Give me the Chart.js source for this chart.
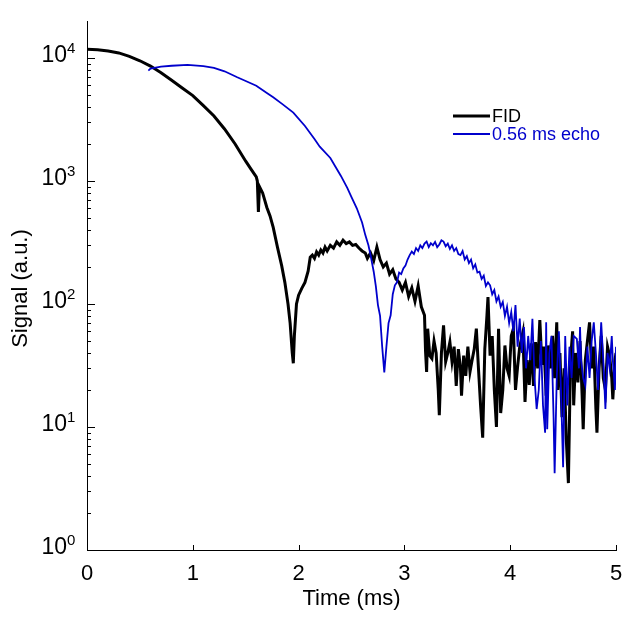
<!DOCTYPE html>
<html>
<head>
<meta charset="utf-8">
<title>FID vs echo</title>
<script src="https://cdn.jsdelivr.net/npm/chart.js@4/dist/chart.umd.min.js"></script>
<style>
    body { margin: 0; background: #fff; }
    #signalChart { display: block; }
</style>
</head>
<body>
<canvas id="signalChart" width="627" height="617"></canvas>
<script>
// Datos (tiempo en ms, señal en u.a.)
const fidTime = [
    0, 0.1, 0.2, 0.3, 0.4, 0.5, 0.6, 0.7, 0.8, 0.9,
    1.0, 1.1, 1.2, 1.3, 1.4, 1.5, 1.55, 1.6, 1.61, 1.62,
    1.63, 1.66, 1.70, 1.73, 1.76, 1.80, 1.84, 1.87, 1.90, 1.92,
    1.94, 1.95, 1.96, 1.98, 2.00, 2.03, 2.06, 2.09, 2.11, 2.13,
    2.15, 2.17, 2.19, 2.21, 2.23, 2.25, 2.27, 2.30, 2.33, 2.36,
    2.39, 2.42, 2.45, 2.48, 2.51, 2.54, 2.57, 2.60, 2.63, 2.65,
    2.68, 2.71, 2.74, 2.77, 2.80, 2.83, 2.86, 2.89, 2.92, 2.95,
    2.98, 3.01, 3.04, 3.07, 3.10, 3.13, 3.16, 3.19, 3.20, 3.21,
    3.22, 3.24, 3.26, 3.28, 3.30, 3.32, 3.33, 3.35, 3.37, 3.39,
    3.41, 3.43, 3.45, 3.47, 3.49, 3.51, 3.53, 3.54, 3.56, 3.58,
    3.60, 3.62, 3.64, 3.66, 3.68, 3.70, 3.72, 3.74, 3.76, 3.78,
    3.79, 3.81, 3.83, 3.85, 3.87, 3.89, 3.91, 3.93, 3.95, 3.97,
    3.99, 4.01, 4.03, 4.05, 4.07, 4.09, 4.12, 4.14, 4.16, 4.18,
    4.20, 4.22, 4.24, 4.26, 4.28, 4.30, 4.32, 4.34, 4.36, 4.38,
    4.40, 4.42, 4.44, 4.45, 4.47, 4.49, 4.51, 4.53, 4.55, 4.57,
    4.59, 4.60, 4.62, 4.64, 4.66, 4.68, 4.69, 4.71, 4.73, 4.75,
    4.77, 4.79, 4.81, 4.82, 4.84, 4.86, 4.88, 4.90, 4.92, 4.94,
    4.96, 4.97, 4.99, 5.00
];
const fidSignal = [
    11800, 11700, 11400, 11000, 10300, 9500, 8600, 7600, 6600, 5700,
    4950, 4100, 3380, 2650, 2000, 1450, 1250, 1080, 1000, 560,
    900, 800, 610, 520, 420, 290, 205, 150, 100, 70,
    40, 33, 55, 100, 118, 134, 150, 185, 240, 250,
    235, 265, 250, 275, 260, 290, 270, 300, 285, 320,
    300, 330, 310, 320, 300, 305, 285, 270, 260, 235,
    260, 225, 290, 230, 200, 215, 175, 190, 160, 150,
    130, 150, 115, 135, 105, 140, 95, 81, 41, 28,
    63, 38, 36, 50, 40, 20, 12.5, 40, 67, 34,
    40, 49, 34, 45, 21.6, 43, 30, 18, 38, 26,
    45, 28, 35, 43, 63, 30, 15, 8.2, 43, 80,
    114, 38, 55, 20, 10, 63, 13, 20, 46, 30,
    26, 55, 63, 20, 31, 45, 59, 16, 35, 22,
    48, 21.6, 49, 30, 74, 32, 45, 18, 46, 30,
    55, 25, 71, 20, 40, 12, 30, 8, 3.5, 35,
    60, 15, 40, 23, 50, 18, 9.6, 35, 50, 71,
    30, 45, 14, 9, 30, 55, 25, 20, 45, 38,
    25, 16.8, 35, 40
];

const echoTime = [
    0.58, 0.6, 0.7, 0.8, 0.95, 1.1, 1.2, 1.3, 1.42, 1.5,
    1.6, 1.7, 1.76, 1.85, 1.95, 2.06, 2.15, 2.2, 2.3, 2.4,
    2.46, 2.5, 2.55, 2.6, 2.63, 2.66, 2.68, 2.71, 2.73, 2.75,
    2.77, 2.79, 2.81, 2.83, 2.85, 2.87, 2.89, 2.91, 2.93, 2.95,
    2.97, 2.99, 3.01, 3.03, 3.05, 3.07, 3.09, 3.11, 3.13, 3.15,
    3.17, 3.19, 3.21, 3.23, 3.25, 3.27, 3.29, 3.31, 3.33, 3.35,
    3.37, 3.39, 3.41, 3.43, 3.45, 3.47, 3.49, 3.51, 3.53, 3.55,
    3.57, 3.59, 3.61, 3.63, 3.65, 3.67, 3.69, 3.71, 3.73, 3.75,
    3.77, 3.79, 3.81, 3.83, 3.85, 3.87, 3.89, 3.91, 3.93, 3.95,
    3.97, 3.99, 4.01, 4.03, 4.05, 4.07, 4.09, 4.11, 4.13, 4.15,
    4.17, 4.19, 4.21, 4.23, 4.25, 4.27, 4.29, 4.31, 4.33, 4.34,
    4.35, 4.37, 4.39, 4.41, 4.42, 4.44, 4.46, 4.48, 4.50, 4.52,
    4.54, 4.56, 4.58, 4.60, 4.63, 4.65, 4.66, 4.67, 4.69, 4.71,
    4.73, 4.75, 4.77, 4.79, 4.81, 4.83, 4.86, 4.88, 4.90, 4.92,
    4.94, 4.96, 4.97, 4.99, 5.00
];
const echoSignal = [
    7900, 8200, 8500, 8650, 8790, 8600, 8300, 7800, 6970, 6500,
    5950, 5200, 4790, 4200, 3600, 2800, 2200, 1900, 1540, 1100,
    880, 740, 600, 460, 365, 300, 250, 183, 140, 98,
    80, 45, 27.8, 45, 70, 81, 120, 142, 150, 180,
    175, 195, 205, 230, 250, 267, 255, 285, 270, 300,
    285, 310, 322, 290, 312, 300, 320, 290, 305, 330,
    322, 295, 310, 280, 300, 270, 285, 255, 250, 270,
    230, 245, 215, 230, 195, 210, 180, 183, 160, 170,
    140, 150, 142, 120, 130, 105, 115, 95, 104, 80,
    95, 70, 86, 60, 98, 45, 76, 40, 65, 30,
    55, 35, 76, 25, 14, 20, 50, 15, 9, 71,
    9.6, 40, 55, 12, 4.2, 25, 60, 20, 4.7, 55,
    15, 45, 25, 55, 52, 30, 65, 35, 25, 21.6,
    45, 25, 50, 71, 40, 20, 71, 35, 14, 40,
    30, 55, 35, 20, 45
];

const seriesLabels = ['FID', '0.56 ms echo'];
const seriesColors = ['#000000', '#0000cc'];
const xTickValues = [0, 1, 2, 3, 4, 5];
const yExponents = [0, 1, 2, 3, 4];

const FONT = "'Liberation Sans', Arial, Helvetica, sans-serif";

function toPoints(times, values) {
    return times.map((t, i) => ({ x: t, y: values[i] }));
}

// Ticks hacia dentro, etiquetas 10^n, título vertical y leyenda
const decorPlugin = {
    id: 'decor',
    afterDraw(chart) {
        const ctx = chart.ctx;
        const area = chart.chartArea;
        const xs = chart.scales.x;
        const ys = chart.scales.y;
        ctx.save();
        ctx.strokeStyle = '#000';
        ctx.lineWidth = 1;

        // ticks del eje x
        xTickValues.forEach(v => {
            const px = Math.round(xs.getPixelForValue(v)) + 0.5;
            ctx.beginPath();
            ctx.moveTo(px, area.bottom);
            ctx.lineTo(px, area.bottom - 5);
            ctx.stroke();
        });

        // ticks del eje y (mayores y menores)
        yExponents.forEach(e => {
            const base = Math.pow(10, e);
            const py = Math.round(ys.getPixelForValue(base)) + 0.5;
            ctx.beginPath();
            ctx.moveTo(area.left, py);
            ctx.lineTo(area.left + 8, py);
            ctx.stroke();
            for (let m = 2; m <= 9 && e < 4; m++) {
                const pm = Math.round(ys.getPixelForValue(base * m)) + 0.5;
                ctx.beginPath();
                ctx.moveTo(area.left, pm);
                ctx.lineTo(area.left + 4, pm);
                ctx.stroke();
            }

            // etiqueta 10 con exponente
            ctx.fillStyle = '#000';
            ctx.textBaseline = 'middle';
            ctx.textAlign = 'right';
            ctx.font = '23px ' + FONT;
            ctx.fillText('10', area.left - 20, py - 3);
            ctx.textAlign = 'left';
            ctx.font = '15px ' + FONT;
            ctx.fillText(String(e), area.left - 20, py - 10);
        });

        // título del eje y
        ctx.save();
        ctx.translate(21, (area.top + area.bottom) / 2 + 3);
        ctx.rotate(-Math.PI / 2);
        ctx.textAlign = 'center';
        ctx.textBaseline = 'middle';
        ctx.font = '22px ' + FONT;
        ctx.fillStyle = '#000';
        ctx.fillText('Signal (a.u.)', 0, 0);
        ctx.restore();

        // leyenda
        const lx = 453, ly = 116, gap = 18;
        chart.data.datasets.forEach((ds, i) => {
            const y = ly + i * gap;
            ctx.strokeStyle = ds.borderColor;
            ctx.lineWidth = ds.borderWidth;
            ctx.beginPath();
            ctx.moveTo(lx, y);
            ctx.lineTo(lx + 37, y);
            ctx.stroke();
            ctx.fillStyle = ds.borderColor;
            ctx.font = '18px ' + FONT;
            ctx.textAlign = 'left';
            ctx.textBaseline = 'middle';
            ctx.fillText(ds.label, lx + 39, y + 1);
        });
        ctx.restore();
    }
};

function crearGraficaSenal() {
    const ctx = document.getElementById('signalChart');
    if (!ctx) return;

    new Chart(ctx, {
        type: 'line',
        data: {
            datasets: [
                {
                    label: seriesLabels[0],
                    data: toPoints(fidTime, fidSignal),
                    borderColor: seriesColors[0],
                    borderWidth: 3,
                    pointRadius: 0,
                    tension: 0,
                    order: 1
                },
                {
                    label: seriesLabels[1],
                    data: toPoints(echoTime, echoSignal),
                    borderColor: seriesColors[1],
                    borderWidth: 1.8,
                    pointRadius: 0,
                    tension: 0,
                    order: 0
                }
            ]
        },
        options: {
            responsive: false,
            animation: false,
            layout: {
                padding: { left: 87, right: 11, top: 21, bottom: 0 }
            },
            plugins: {
                legend: { display: false },
                tooltip: { enabled: false }
            },
            scales: {
                x: {
                    type: 'linear',
                    min: 0,
                    max: 5,
                    afterBuildTicks: axis => {
                        axis.ticks = xTickValues.map(v => ({ value: v }));
                    },
                    afterFit: axis => { axis.height = 67; },
                    grid: { display: false },
                    border: { display: true, color: '#000', width: 1 },
                    ticks: {
                        color: '#000',
                        padding: 3,
                        maxRotation: 0,
                        font: { size: 22, family: FONT }
                    },
                    title: {
                        display: true,
                        text: 'Time (ms)',
                        color: '#000',
                        padding: { top: 0, bottom: 5 },
                        font: { size: 22, family: FONT }
                    }
                },
                y: {
                    type: 'logarithmic',
                    min: 1,
                    max: 20000,
                    afterFit: axis => { axis.width = 0; },
                    grid: { display: false },
                    border: { display: true, color: '#000', width: 1 },
                    ticks: { display: false }
                }
            }
        },
        plugins: [decorPlugin]
    });
}

crearGraficaSenal();
</script>
</body>
</html>
